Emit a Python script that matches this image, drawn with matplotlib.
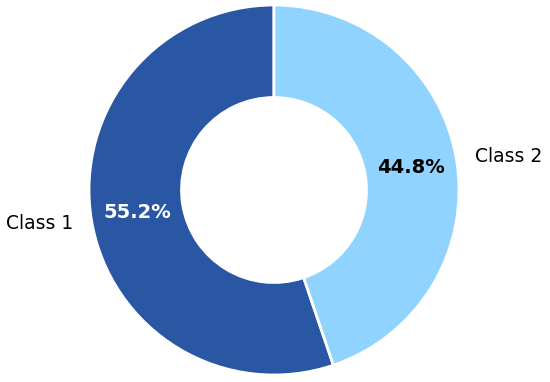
import matplotlib
matplotlib.use("Agg")
import matplotlib.pyplot as plt

labels = ["Class 1", "Class 2"]
values = [55.2, 44.8]
colors = ["#2957a4", "#8fd3fe"]
pct_colors = ["white", "black"]

fig = plt.figure(figsize=(5.5, 3.82), dpi=100)
ax = fig.add_axes([(274 - 185) / 550, (382 - 190 - 185) / 382, 370 / 550, 370 / 382])

wedges, texts, autotexts = ax.pie(
    values, labels=labels, colors=colors, startangle=90,
    autopct="%1.1f%%", pctdistance=0.75, labeldistance=1.1,
    wedgeprops=dict(width=0.5, edgecolor="white", linewidth=2),
    textprops=dict(fontsize=13.5),
)
for t, c in zip(autotexts, pct_colors):
    t.set_color(c)
    t.set_fontweight("bold")
    t.set_fontsize(14)

ax.set_xlim(-1, 1)
ax.set_ylim(-1, 1)
ax.set_aspect("equal")
ax.axis("off")

fig.savefig("out.png", dpi=100)
